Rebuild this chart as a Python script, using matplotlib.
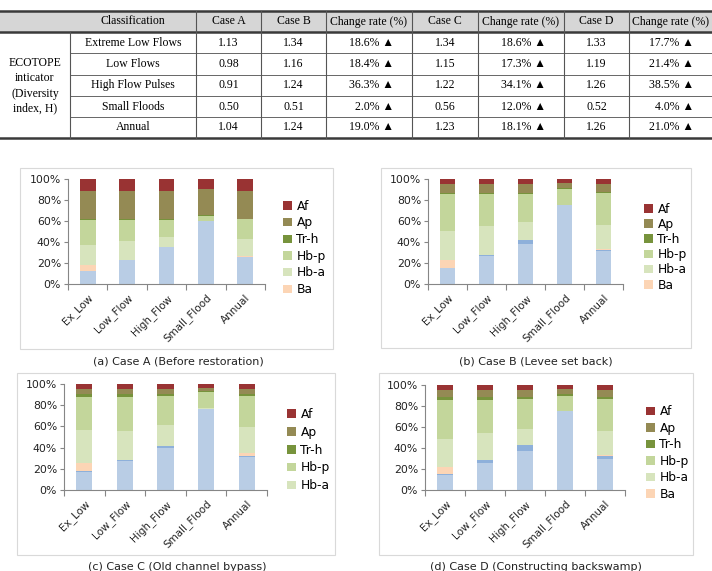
import matplotlib
matplotlib.use('Agg')
import matplotlib.pyplot as plt
from matplotlib.lines import Line2D
from matplotlib.patches import Rectangle, Patch
import numpy as np

W, H = 712, 571

# ---- table values ----
flow_rows = ["Extreme Low Flows", "Low Flows", "High Flow Pulses", "Small Floods", "Annual"]
case_a = [1.13, 0.98, 0.91, 0.50, 1.04]
case_b = [1.34, 1.16, 1.24, 0.51, 1.24]
rate_b = [18.6, 18.4, 36.3, 2.0, 19.0]
case_c = [1.34, 1.15, 1.22, 0.56, 1.23]
rate_c = [18.6, 17.3, 34.1, 12.0, 18.1]
case_d = [1.33, 1.19, 1.26, 0.52, 1.26]
rate_d = [17.7, 21.4, 38.5, 4.0, 21.0]
header = ["Case A", "Case B", "Change rate (%)", "Case C", "Change rate (%)", "Case D", "Change rate (%)"]

# ---- chart values (%), rows = classes bottom->top, cols = periods ----
periods = ["Ex_Low", "Low_Flow", "High_Flow", "Small_Flood", "Annual"]
classes = ["W1", "W2", "Ba", "Hb-a", "Hb-p", "Tr-h", "Ap", "Af"]   # W1/W2: blue classes, not in visible legend
colors = ["#B9CDE5", "#8EB0DA", "#FCD5B5", "#D7E4BD", "#C3D69B", "#77933C", "#948A54", "#993333"]
legend_classes = ["Af", "Ap", "Tr-h", "Hb-p", "Hb-a", "Ba"]

pct_a = [[12, 23, 35, 60, 25.5],
         [0, 0, 0, 0, 0],
         [6, 0, 0, 0, 1],
         [19, 18, 10, 0, 16],
         [24, 20, 16, 5, 19],
         [1, 1, 1, 0.5, 0.5],
         [27, 27, 27, 24.5, 27],
         [11, 11, 11, 10, 11]]
pct_b = [[15, 27, 38.5, 75, 31],
         [0, 1, 3, 0, 1],
         [8, 0, 0, 0, 1],
         [27.5, 27, 17.5, 0.5, 23.5],
         [35, 30.5, 27, 14.5, 30],
         [1.5, 1.5, 1, 1, 1.5],
         [8, 8, 8, 5, 7.5],
         [5, 5, 5, 4, 4.5]]
pct_c = [[17, 27.5, 39.5, 76, 31],
         [0.5, 1, 2, 0, 1.5],
         [8, 0, 0, 0, 2],
         [31.5, 27.5, 19.5, 1.5, 24.5],
         [31, 32, 28, 14.5, 30],
         [3, 3, 2, 1.5, 2],
         [4, 4, 4, 2.5, 4],
         [5, 5, 5, 4, 5]]
pct_d = [[14, 26, 37.5, 75, 30],
         [1, 3, 5.5, 0, 2],
         [7, 0, 0, 0, 1.5],
         [27, 25.5, 15.5, 0.5, 22.5],
         [37, 31.5, 28, 14.5, 30.5],
         [3, 3, 2.5, 1, 2.5],
         [6.5, 6.5, 6.5, 5, 6.5],
         [4.5, 4.5, 4.5, 4, 4.5]]

fig = plt.figure(figsize=(W / 100, H / 100), dpi=100)


def fx(x):
    return x / W


def fy(y):
    return 1 - y / H


def hline(x0, x1, y, lw=0.8, c="#555555"):
    fig.add_artist(Line2D([fx(x0), fx(x1)], [fy(y), fy(y)], lw=lw, color=c, transform=fig.transFigure))


def vline(x, y0, y1, lw=0.8, c="#555555"):
    fig.add_artist(Line2D([fx(x), fx(x)], [fy(y0), fy(y1)], lw=lw, color=c, transform=fig.transFigure))


# ---- table ----
serif = ["Liberation Serif", "DejaVu Serif"]
tfs = 8.5
cols = [0, 70, 196, 261, 326, 412, 478, 564, 629, 712]
rows = [11, 32, 53, 75, 96, 117, 138]

fig.add_artist(Rectangle((fx(0), fy(32)), fx(712), fy(11) - fy(32), transform=fig.transFigure,
                         facecolor="#D6D6D6", edgecolor="none"))
hline(0, 712, 11, lw=1.8, c="#3a3a3a")
hline(0, 712, 32, lw=1.8, c="#3a3a3a")
for r in rows[2:-1]:
    hline(70, 712, r, lw=0.7, c="#666666")
hline(0, 712, 138, lw=1.8, c="#3a3a3a")
vline(70, 32, 138)
for c in cols[2:-1]:
    vline(c, 11, 138)

fig.text(fx(133), fy(21.5), "Classification", ha="center", va="center", fontsize=tfs, family=serif)
for i, h in enumerate(header):
    xc = (cols[i + 2] + cols[i + 3]) / 2
    fig.text(fx(xc), fy(21.5), h, ha="center", va="center", fontsize=tfs, family=serif)

fig.text(fx(35), fy(86), "ECOTOPE\ninticator\n(Diversity\nindex, H)", ha="center", va="center",
         fontsize=tfs, family=serif, linespacing=1.35)

table_cols = [case_a, case_b, rate_b, case_c, rate_c, case_d, rate_d]
for j, name in enumerate(flow_rows):
    yc = (rows[j + 1] + rows[j + 2]) / 2
    fig.text(fx(133), fy(yc), name, ha="center", va="center", fontsize=tfs, family=serif)
    for i, vals in enumerate(table_cols):
        if i in (2, 4, 6):
            fig.text(fx(cols[i + 3] - 18), fy(yc), f"{vals[j]:.1f}% \u25B2", ha="right", va="center",
                     fontsize=tfs, family=serif)
        else:
            xc = (cols[i + 2] + cols[i + 3]) / 2
            fig.text(fx(xc), fy(yc), f"{vals[j]:.2f}", ha="center", va="center", fontsize=tfs, family=serif)


# ---- charts ----
def draw_chart(box, plot, pct, legend_n, leg_x, leg_y, leg_sp, caption, cap_xy):
    bx0, by0, bx1, by1 = box
    fig.add_artist(Rectangle((fx(bx0), fy(by1)), fx(bx1 - bx0), fy(by0) - fy(by1), transform=fig.transFigure,
                             facecolor="none", edgecolor="#D9D9D9", lw=0.8))
    px0, py0, px1, py1 = plot
    ax = fig.add_axes([fx(px0), fy(py1), fx(px1 - px0), fy(py0) - fy(py1)])
    x = np.arange(len(periods))
    bottom = np.zeros(len(periods))
    for cls, vals, col in zip(classes, pct, colors):
        ax.bar(x, vals, 0.4, bottom=bottom, color=col, label=cls)
        bottom += np.array(vals)
    ax.set_xlim(-0.5, 4.5)
    ax.set_ylim(0, 100)
    ax.set_yticks(range(0, 101, 20))
    ax.set_yticklabels([f"{v}%" for v in range(0, 101, 20)], fontsize=7.8, color="#222222")
    ax.set_xticks(x)
    ax.set_xticklabels(periods, rotation=45, ha="right", rotation_mode="anchor", fontsize=7.5, color="#222222")
    ax.set_xticks(np.arange(-0.5, 5, 1), minor=True)
    ax.tick_params(axis="x", which="major", length=0, pad=6)
    ax.tick_params(axis="x", which="minor", length=4, color="#868686", width=0.8)
    ax.tick_params(axis="y", length=3, color="#868686", width=0.8, pad=2)
    for s in ("top", "right"):
        ax.spines[s].set_visible(False)
    for s in ("left", "bottom"):
        ax.spines[s].set_color("#868686")
        ax.spines[s].set_linewidth(0.8)
    handles = [Patch(facecolor=colors[classes.index(c)], edgecolor="none") for c in legend_classes[:legend_n]]
    ax.legend(handles, legend_classes[:legend_n], loc="center left",
              bbox_to_anchor=(fx(leg_x), fy(leg_y)), bbox_transform=fig.transFigure,
              frameon=False, fontsize=8.8, handlelength=0.7, handleheight=0.7,
              handletextpad=0.4, labelspacing=leg_sp, borderpad=0, borderaxespad=0)
    fig.text(fx(cap_xy[0]), fy(cap_xy[1]), caption, ha="center", va="center", fontsize=8, color="#222222")


draw_chart((20, 168, 333, 349), (68, 179, 265, 284), pct_a, 6, 283, 248, 0.3,
           "(a) Case A (Before restoration)", (178, 362))
draw_chart((381, 168, 691, 348), (428, 179, 623, 284), pct_b, 6, 644, 247, 0.18,
           "(b) Case B (Levee set back)", (536, 361))
draw_chart((17, 373, 335, 555), (64, 384, 267, 490), pct_c, 5, 287, 450, 0.4,
           "(c) Case C (Old channel bypass)", (177, 567))
draw_chart((379, 373, 693, 555), (425, 385, 625, 490), pct_d, 6, 646, 453, 0.28,
           "(d) Case D (Constructing backswamp)", (536, 567))

fig.savefig("out.png", dpi=100)
